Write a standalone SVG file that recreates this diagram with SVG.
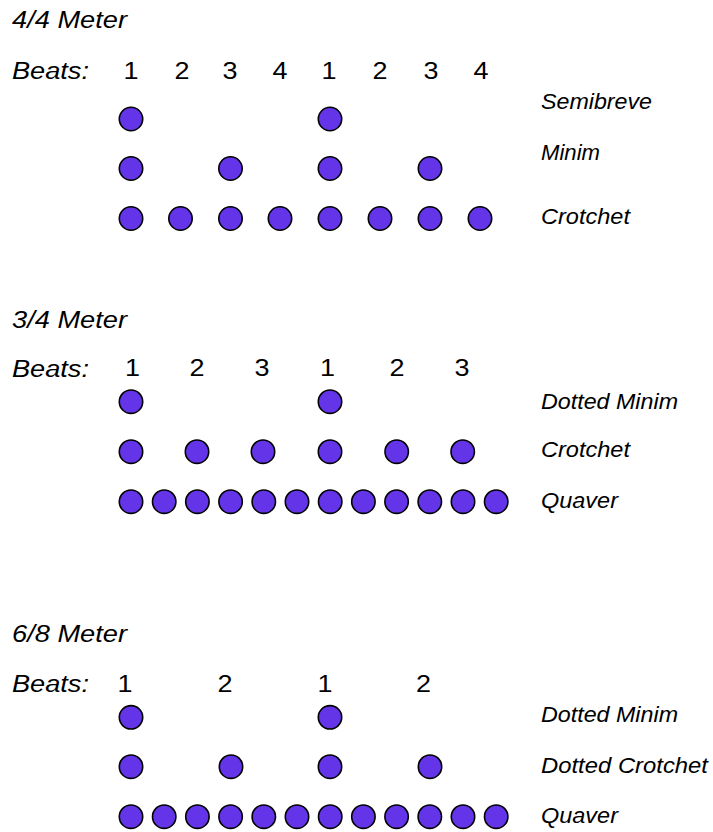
<svg xmlns="http://www.w3.org/2000/svg" width="713" height="832" viewBox="0 0 713 832">
<style>
text{font-family:"Liberation Sans",Arial,sans-serif;fill:#000;lengthAdjust:spacingAndGlyphs}
.t{font-size:23px;font-style:italic}
.n{font-size:23px;text-anchor:middle}
.l{font-size:22px;font-style:italic}
circle{fill:#6434E8;stroke:#000;stroke-width:1.6}
</style>
<rect width="713" height="832" fill="#fff"/>
<g id="meter44">
<text class="t" x="12" y="28" textLength="115" lengthAdjust="spacingAndGlyphs">4/4 Meter</text>
<text class="t" x="12" y="79" textLength="77" lengthAdjust="spacingAndGlyphs">Beats:</text>
<g class="beats">
<text class="n" x="131" y="79" textLength="15" lengthAdjust="spacingAndGlyphs">1</text><text class="n" x="182" y="79" textLength="15" lengthAdjust="spacingAndGlyphs">2</text><text class="n" x="230" y="79" textLength="15" lengthAdjust="spacingAndGlyphs">3</text><text class="n" x="280" y="79" textLength="15" lengthAdjust="spacingAndGlyphs">4</text>
<text class="n" x="329" y="79" textLength="15" lengthAdjust="spacingAndGlyphs">1</text><text class="n" x="380" y="79" textLength="15" lengthAdjust="spacingAndGlyphs">2</text><text class="n" x="431" y="79" textLength="15" lengthAdjust="spacingAndGlyphs">3</text><text class="n" x="481" y="79" textLength="15" lengthAdjust="spacingAndGlyphs">4</text>
</g>
<g id="semibreve44"><text class="l" x="541" y="109" textLength="111" lengthAdjust="spacingAndGlyphs">Semibreve</text>
<circle cx="131" cy="119" r="11.7"/><circle cx="330" cy="119" r="11.7"/></g>
<g id="minim44"><text class="l" x="541" y="160" textLength="59" lengthAdjust="spacingAndGlyphs">Minim</text>
<circle cx="131" cy="168.5" r="11.7"/><circle cx="230.5" cy="168.5" r="11.7"/><circle cx="330" cy="168.5" r="11.7"/><circle cx="430" cy="168.5" r="11.7"/></g>
<g id="crotchet44"><text class="l" x="541" y="224" textLength="89" lengthAdjust="spacingAndGlyphs">Crotchet</text>
<circle cx="131" cy="218.5" r="11.7"/><circle cx="180.5" cy="218.5" r="11.7"/><circle cx="230.5" cy="218.5" r="11.7"/><circle cx="280" cy="218.5" r="11.7"/>
<circle cx="330" cy="218.5" r="11.7"/><circle cx="380" cy="218.5" r="11.7"/><circle cx="430" cy="218.5" r="11.7"/><circle cx="480" cy="218.5" r="11.7"/></g>
</g>
<g id="meter34">
<text class="t" x="12" y="328" textLength="115" lengthAdjust="spacingAndGlyphs">3/4 Meter</text>
<text class="t" x="12" y="377" textLength="77" lengthAdjust="spacingAndGlyphs">Beats:</text>
<text class="n" x="132.5" y="376" textLength="15" lengthAdjust="spacingAndGlyphs">1</text><text class="n" x="197" y="376" textLength="15" lengthAdjust="spacingAndGlyphs">2</text><text class="n" x="262" y="376" textLength="15" lengthAdjust="spacingAndGlyphs">3</text>
<text class="n" x="327.5" y="376" textLength="15" lengthAdjust="spacingAndGlyphs">1</text><text class="n" x="397" y="376" textLength="15" lengthAdjust="spacingAndGlyphs">2</text><text class="n" x="462" y="376" textLength="15" lengthAdjust="spacingAndGlyphs">3</text>
<g id="dottedminim34"><text class="l" x="541" y="409" textLength="137" lengthAdjust="spacingAndGlyphs">Dotted Minim</text>
<circle cx="131" cy="401.7" r="11.7"/><circle cx="330" cy="401.7" r="11.7"/></g>
<g id="crotchet34"><text class="l" x="541" y="457" textLength="89" lengthAdjust="spacingAndGlyphs">Crotchet</text>
<circle cx="131" cy="451.7" r="11.7"/><circle cx="197" cy="451.7" r="11.7"/><circle cx="263" cy="451.7" r="11.7"/>
<circle cx="330" cy="451.7" r="11.7"/><circle cx="396.7" cy="451.7" r="11.7"/><circle cx="462.7" cy="451.7" r="11.7"/></g>
<g id="quaver34"><text class="l" x="541" y="508" textLength="77" lengthAdjust="spacingAndGlyphs">Quaver</text>
<circle cx="131" cy="501.7" r="11.7"/><circle cx="164.2" cy="501.7" r="11.7"/><circle cx="197.4" cy="501.7" r="11.7"/><circle cx="230.6" cy="501.7" r="11.7"/>
<circle cx="263.8" cy="501.7" r="11.7"/><circle cx="297" cy="501.7" r="11.7"/><circle cx="330.2" cy="501.7" r="11.7"/><circle cx="363.4" cy="501.7" r="11.7"/>
<circle cx="396.6" cy="501.7" r="11.7"/><circle cx="429.8" cy="501.7" r="11.7"/><circle cx="463" cy="501.7" r="11.7"/><circle cx="496.2" cy="501.7" r="11.7"/></g>
</g>
<g id="meter68">
<text class="t" x="12" y="642" textLength="115" lengthAdjust="spacingAndGlyphs">6/8 Meter</text>
<text class="t" x="12" y="692" textLength="77" lengthAdjust="spacingAndGlyphs">Beats:</text>
<text class="n" x="125" y="692" textLength="15" lengthAdjust="spacingAndGlyphs">1</text><text class="n" x="225" y="692" textLength="15" lengthAdjust="spacingAndGlyphs">2</text>
<text class="n" x="325" y="692" textLength="15" lengthAdjust="spacingAndGlyphs">1</text><text class="n" x="423.5" y="692" textLength="15" lengthAdjust="spacingAndGlyphs">2</text>
<g id="dottedminim68"><text class="l" x="541" y="722" textLength="137" lengthAdjust="spacingAndGlyphs">Dotted Minim</text>
<circle cx="131" cy="717.3" r="11.7"/><circle cx="330" cy="717.3" r="11.7"/></g>
<g id="dottedcrotchet68"><text class="l" x="541" y="773" textLength="167" lengthAdjust="spacingAndGlyphs">Dotted Crotchet</text>
<circle cx="131" cy="766.7" r="11.7"/><circle cx="231" cy="766.7" r="11.7"/><circle cx="330" cy="766.7" r="11.7"/><circle cx="430" cy="766.7" r="11.7"/></g>
<g id="quaver68"><text class="l" x="541" y="823" textLength="77" lengthAdjust="spacingAndGlyphs">Quaver</text>
<circle cx="131" cy="816.7" r="11.7"/><circle cx="164.2" cy="816.7" r="11.7"/><circle cx="197.4" cy="816.7" r="11.7"/><circle cx="230.6" cy="816.7" r="11.7"/>
<circle cx="263.8" cy="816.7" r="11.7"/><circle cx="297" cy="816.7" r="11.7"/><circle cx="330.2" cy="816.7" r="11.7"/><circle cx="363.4" cy="816.7" r="11.7"/>
<circle cx="396.6" cy="816.7" r="11.7"/><circle cx="429.8" cy="816.7" r="11.7"/><circle cx="463" cy="816.7" r="11.7"/><circle cx="496.2" cy="816.7" r="11.7"/></g>
</g>
</svg>
